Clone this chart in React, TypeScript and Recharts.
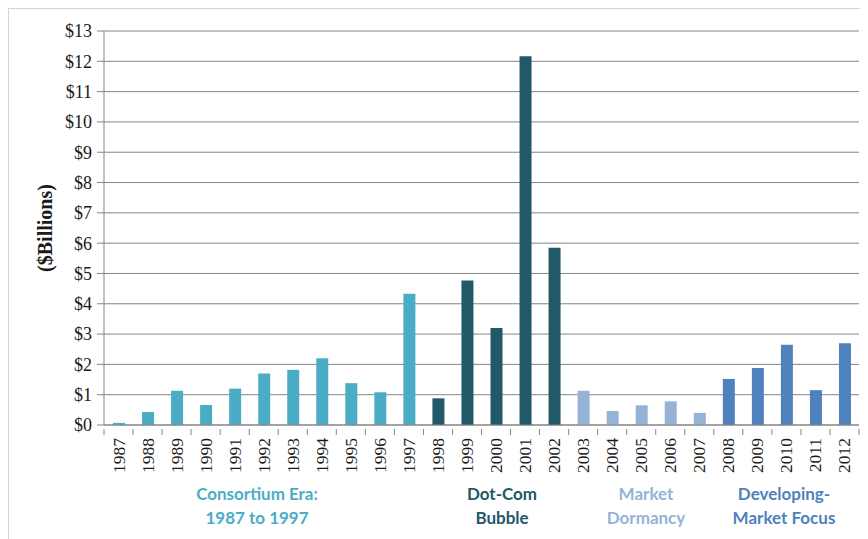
import { BarChart, Bar, XAxis, YAxis, CartesianGrid, Cell, Label } from 'recharts';

const years = [
  '1987', '1988', '1989', '1990', '1991', '1992', '1993', '1994', '1995', '1996', '1997',
  '1998', '1999', '2000', '2001', '2002',
  '2003', '2004', '2005', '2006', '2007',
  '2008', '2009', '2010', '2011', '2012',
];

// investment per year, $ billions
const investment = [
  0.07, 0.43, 1.13, 0.66, 1.2, 1.7, 1.82, 2.2, 1.38, 1.08, 4.33,
  0.88, 4.77, 3.2, 12.17, 5.85,
  1.13, 0.46, 0.65, 0.78, 0.4,
  1.52, 1.88, 2.65, 1.15, 2.7,
];

// which era each year belongs to (index into eraNames / eraColors)
const yearEra = [0, 0, 0, 0, 0, 0, 0, 0, 0, 0, 0, 1, 1, 1, 1, 1, 2, 2, 2, 2, 2, 3, 3, 3, 3, 3];

const eraNames = [
  ['Consortium Era:', '1987 to 1997'],
  ['Dot-Com', 'Bubble'],
  ['Market', 'Dormancy'],
  ['Developing-', 'Market Focus'],
];
const eraColors = ['#4bacc6', '#215968', '#95b3d7', '#4f81bd'];

const yTicks = [0, 1, 2, 3, 4, 5, 6, 7, 8, 9, 10, 11, 12, 13];

const data = years.map((year, i) => ({ year, value: investment[i], era: yearEra[i] }));

const serif = '"Liberation Serif", "DejaVu Serif", serif';
const GRID = '#858585';

const YearTick = (props: any) => {
  const { x, y, payload, index } = props;
  const half = payload && payload.offset ? payload.offset : 14.5;
  const axisY = y - 4;
  return (
    <g>
      <line x1={x - half} x2={x - half} y1={axisY} y2={axisY + 6} stroke={GRID} />
      {index === years.length - 1 && (
        <line x1={x + half} x2={x + half} y1={axisY} y2={axisY + 6} stroke={GRID} />
      )}
      <text
        x={x}
        y={y + 5}
        transform={`rotate(-90, ${x}, ${y + 5})`}
        textAnchor="end"
        dominantBaseline="central"
        fontFamily={serif}
        fontSize={17.5}
        fill="#1a1a1a"
      >
        {payload.value}
      </text>
    </g>
  );
};

const eraCenters = [257, 502, 646, 784];

export default function App() {
  return (
    <div
      style={{
        position: 'relative',
        width: 880,
        height: 560,
        border: '1px solid #d4d4d4',
        background: '#fff',
      }}
    >
      <BarChart
        width={860}
        height={530}
        data={data}
        margin={{ top: 22, right: 10, left: 0, bottom: 0 }}
        barSize={12}
      >
        <CartesianGrid vertical={false} stroke={GRID} />
        <XAxis
          dataKey="year"
          interval={0}
          height={114}
          axisLine={{ stroke: GRID }}
          tickLine={false}
          tick={<YearTick />}
        />
        <YAxis
          domain={[0, 13]}
          ticks={yTicks}
          width={95}
          axisLine={{ stroke: GRID }}
          tickLine={{ stroke: GRID }}
          tickSize={7}
          tickMargin={5}
          tickFormatter={(v: number) => `$${v}`}
          tick={{ fontFamily: serif, fontSize: 18, fill: '#1a1a1a' }}
        >
          <Label
            content={({ viewBox }: any) => {
              const cx = viewBox.x + 36;
              const cy = viewBox.y + viewBox.height / 2;
              return (
                <text
                  x={cx}
                  y={cy}
                  transform={`rotate(-90, ${cx}, ${cy})`}
                  textAnchor="middle"
                  dominantBaseline="central"
                  fontFamily={serif}
                  fontWeight="bold"
                  fontSize={20}
                  fill="#1a1a1a"
                >
                  ($Billions)
                </text>
              );
            }}
          />
        </YAxis>
        <Bar dataKey="value" isAnimationActive={false}>
          {data.map((d) => (
            <Cell key={d.year} fill={eraColors[d.era]} />
          ))}
        </Bar>
      </BarChart>
      {eraNames.map((lines, i) => (
        <div
          key={lines[0]}
          style={{
            position: 'absolute',
            left: eraCenters[i] - 9 - 100,
            top: 473,
            width: 200,
            textAlign: 'center',
            fontFamily: 'Lato, "Open Sans", sans-serif',
            fontWeight: 'bold',
            fontSize: 17,
            lineHeight: '24px',
            color: eraColors[i],
          }}
        >
          <div>{lines[0]}</div>
          <div>{lines[1]}</div>
        </div>
      ))}
    </div>
  );
}
